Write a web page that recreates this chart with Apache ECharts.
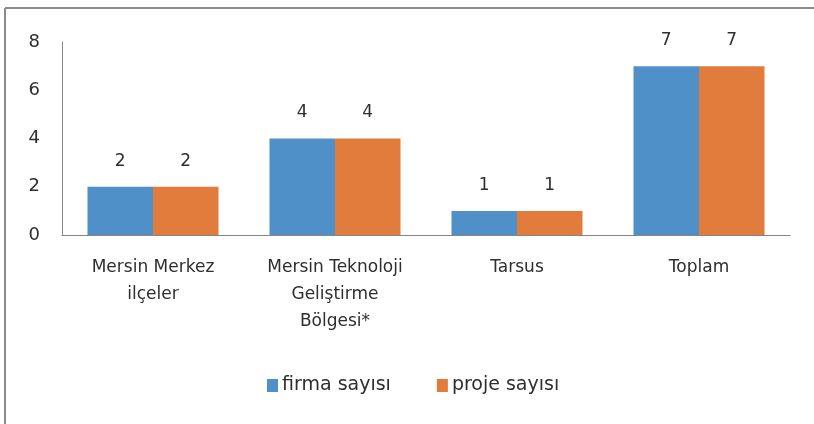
<!DOCTYPE html>
<html>
<head>
<meta charset="utf-8">
<script src="https://cdn.jsdelivr.net/npm/echarts@6/dist/echarts.min.js"></script>
<style>
  html, body { margin: 0; padding: 0; background: #fff; }
  #chart { width: 814px; height: 424px; }
</style>
</head>
<body>
<div id="chart"></div>
<script>
const categories = ['Mersin Merkez\nilçeler', 'Mersin Teknoloji\nGeliştirme\nBölgesi*', 'Tarsus', 'Toplam']
const firmaValues = [2, 4, 1, 7]
const projeValues = [2, 4, 1, 7]
const seriesNames = ['firma sayısı', 'proje sayısı']

const textColor = '#2e2e2e'
const font = 'DejaVu Sans'

const myChart = echarts.init(document.getElementById('chart'))

const labelStyle = {
    show: true,
    position: 'top',
    distance: 17,
    color: textColor,
    fontFamily: font,
    fontSize: 17
}

const option = {
    animation: false,
    // 图表外框
    graphic: [
        {type: 'line', shape: {x1: 5, y1: 8, x2: 814, y2: 8}, style: {stroke: '#8c8c8c', lineWidth: 2}},
        {type: 'line', shape: {x1: 5, y1: 8, x2: 5, y2: 424}, style: {stroke: '#8c8c8c', lineWidth: 2}}
    ],
    grid: {left: 62, right: 24, top: 42, bottom: 189},
    legend: {
        top: 371,
        left: 262,
        itemWidth: 11,
        itemHeight: 13,
        itemGap: 46,
        icon: 'rect',
        textStyle: {color: textColor, fontFamily: font, fontSize: 19, padding: [0, 0, 0, -1]},
        data: seriesNames
    },
    xAxis: {
        type: 'category',
        data: categories,
        axisLine: {lineStyle: {color: '#868686', width: 1}},
        axisTick: {show: false},
        axisLabel: {
            color: textColor,
            fontFamily: font,
            fontSize: 17,
            lineHeight: 27,
            margin: 19,
            interval: 0
        }
    },
    yAxis: {
        type: 'value',
        min: 0,
        max: 8,
        interval: 2,
        axisLine: {show: true, lineStyle: {color: '#868686', width: 1}},
        axisTick: {show: false},
        splitLine: {show: false},
        axisLabel: {color: textColor, fontFamily: font, fontSize: 18, margin: 22}
    },
    series: [
        {
            name: seriesNames[0],
            type: 'bar',
            data: firmaValues,
            barGap: '0%',
            barCategoryGap: '28%',
            itemStyle: {color: '#5090c8'},
            label: labelStyle
        },
        {
            name: seriesNames[1],
            type: 'bar',
            data: projeValues,
            itemStyle: {color: '#e27c3c'},
            label: labelStyle
        }
    ]
}

myChart.setOption(option)
</script>
</body>
</html>
